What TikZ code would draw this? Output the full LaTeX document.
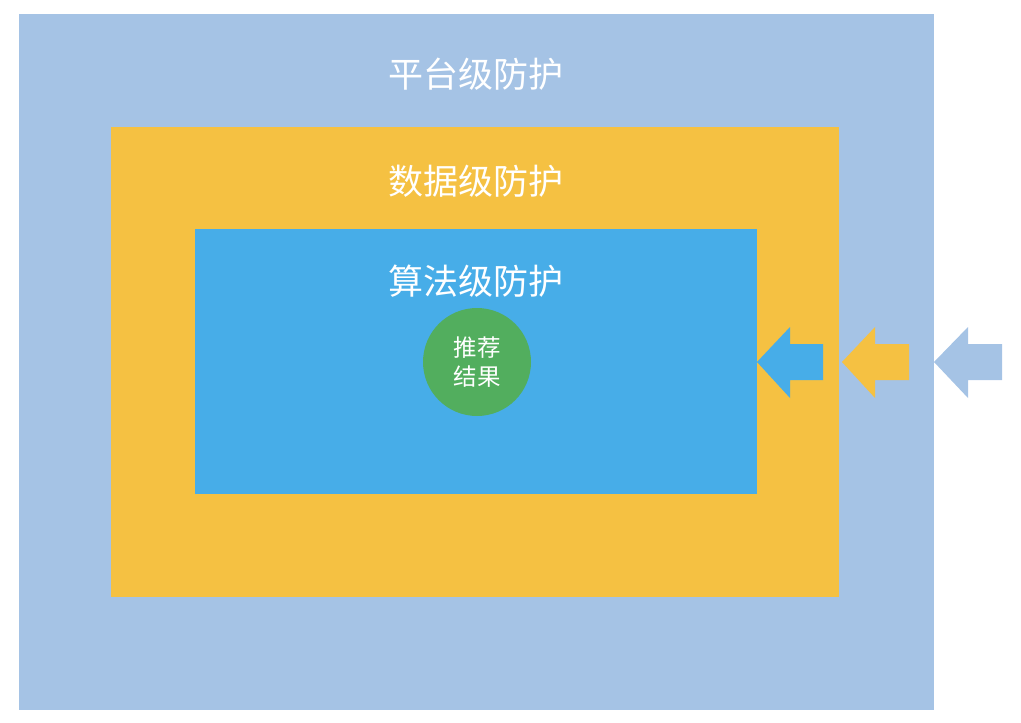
\documentclass[tikz,border=0pt]{standalone}
\usepackage{fontspec}
\newfontfamily\cjk{Noto Sans CJK SC}
\definecolor{platcolor}{RGB}{165,195,229}
\definecolor{datacolor}{RGB}{245,193,66}
\definecolor{algocolor}{RGB}{71,173,232}
\definecolor{resultcolor}{RGB}{82,174,94}
\newlength{\du}
\setlength{\du}{1pt}
\tikzset{
  leveltext/.style={text=white, font=\cjk\fontsize{35}{40}\selectfont},
}
\begin{document}
\begin{tikzpicture}[x=\du,y=-\du]
\useasboundingbox (0,0) rectangle (1021,723);
% platform level
\fill[platcolor] (19,14) rectangle (934,710);
\node[leveltext] (plat) at (476,74) {平台级防护};
% data level
\fill[datacolor] (111,127) rectangle (839,597);
\node[leveltext] (data) at (476,181) {数据级防护};
% algorithm level
\fill[algocolor] (195,229) rectangle (757,494);
\node[leveltext] (algo) at (476,281) {算法级防护};
% result
\node[circle, fill=resultcolor, minimum size=108\du, inner sep=0pt, text=white,
  align=center, font=\cjk\fontsize{23.5}{29}\selectfont] (result) at (477,362) {推荐\\结果};
% arrows
\fill[algocolor] (757,362)--(790,327)--(790,344)--(823,344)--(823,380)--(790,380)--(790,398)--cycle;
\fill[datacolor] (842,362)--(875,327)--(875,344)--(909,344)--(909,380)--(875,380)--(875,398)--cycle;
\fill[platcolor] (934,362)--(968,327)--(968,344)--(1002,344)--(1002,380)--(968,380)--(968,398)--cycle;
\end{tikzpicture}
\end{document}
